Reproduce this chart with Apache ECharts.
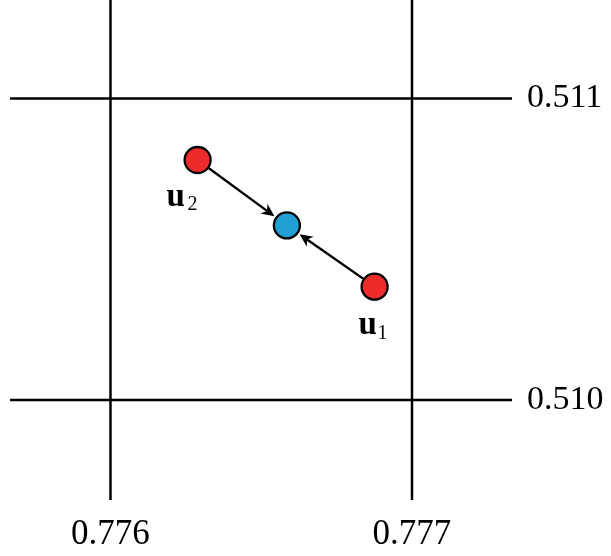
<!DOCTYPE html>
<html>
<head>
<meta charset="utf-8">
<script src="https://cdn.jsdelivr.net/npm/echarts@6/dist/echarts.min.js"></script>
<style>html,body{margin:0;padding:0;background:#fff}#c{width:611px;height:556px}</style>
</head>
<body>
<div id="c"></div>
<script>
// grid line positions / tick labels
const xTicks = [0.776, 0.777];
const yTicks = [0.510, 0.511];
const xTickLabels = ['0.776', '0.777'];
const yTickLabels = ['0.510', '0.511'];
// points
const pointNames = ['u2', 'mid', 'u1'];
const pointX = [0.776289, 0.776585, 0.776876];
const pointY = [0.510796, 0.510579, 0.510376];
const pointColors = ['#EE2B2B', '#1F9FD3', '#EE2B2B'];
// labels: point index, main letter, subscript
const labelPoint = [0, 2];
const labelMain = ['u', 'u'];
const labelSub = ['2', '1'];
// arrows (index from -> index to)
const arrowFrom = [0, 2];
const arrowTo = [1, 1];

const R = 14;
const FONT = 'Liberation Serif';
// pixel placement of label parts relative to the point: [mainDx, mainDy, subDx, subDy]
const labelLayout = [[-31, 37, -10, 45], [-16, 39, 3, 47]];

const chart = echarts.init(document.getElementById('c'));

chart.setOption({
  animation: false,
  grid: { left: 10, right: 99, top: 0, bottom: 56 },
  xAxis: { type: 'value', min: 0.7756667, max: 0.7773317, show: false },
  yAxis: { type: 'value', min: 0.5096683, max: 0.5113267, show: false },
  series: [
    {
      // vertical grid lines with labels below
      type: 'custom',
      z: 1,
      silent: true,
      data: xTicks.map((v, i) => [v, yTicks[0], i]),
      encode: { x: 0, y: 1 },
      renderItem: function (params, api) {
        const cs = params.coordSys;
        const px = api.coord([api.value(0), api.value(1)])[0];
        const bottom = cs.y + cs.height;
        return {
          type: 'group',
          children: [
            { type: 'line', shape: { x1: px, y1: cs.y, x2: px, y2: bottom },
              style: { stroke: '#000', lineWidth: 2.5 } },
            { type: 'text', x: px, y: bottom + 17,
              style: { text: xTickLabels[api.value(2)], fill: '#000', font: '35px "' + FONT + '"',
                       textAlign: 'center', textVerticalAlign: 'top' } }
          ]
        };
      }
    },
    {
      // horizontal grid lines with labels on the right
      type: 'custom',
      z: 1,
      silent: true,
      data: yTicks.map((v, i) => [xTicks[0], v, i]),
      encode: { x: 0, y: 1 },
      renderItem: function (params, api) {
        const cs = params.coordSys;
        const py = api.coord([api.value(0), api.value(1)])[1];
        const right = cs.x + cs.width;
        return {
          type: 'group',
          children: [
            { type: 'line', shape: { x1: cs.x, y1: py, x2: right, y2: py },
              style: { stroke: '#000', lineWidth: 2.5 } },
            { type: 'text', x: right + 15, y: py,
              style: { text: yTickLabels[api.value(2)], fill: '#000', font: '34px "' + FONT + '"',
                       textAlign: 'left', textVerticalAlign: 'middle' } }
          ]
        };
      }
    },
    {
      // arrows
      type: 'custom',
      z: 3,
      silent: true,
      data: arrowFrom.map((f, i) => [pointX[f], pointY[f], pointX[arrowTo[i]], pointY[arrowTo[i]]]),
      encode: { x: [0, 2], y: [1, 3] },
      renderItem: function (params, api) {
        const p1 = api.coord([api.value(0), api.value(1)]);
        const p2 = api.coord([api.value(2), api.value(3)]);
        const dx = p2[0] - p1[0], dy = p2[1] - p1[1];
        const len = Math.sqrt(dx * dx + dy * dy);
        const ux = dx / len, uy = dy / len;
        const nx = -uy, ny = ux;
        const s = [p1[0] + ux * R, p1[1] + uy * R];
        const tip = [p2[0] - ux * (R + 1.5), p2[1] - uy * (R + 1.5)];
        const hl = 13, hw = 6;
        const base = [tip[0] - ux * hl, tip[1] - uy * hl];
        const notch = [tip[0] - ux * hl * 0.7, tip[1] - uy * hl * 0.7];
        return {
          type: 'group',
          children: [
            { type: 'line', shape: { x1: s[0], y1: s[1], x2: notch[0], y2: notch[1] },
              style: { stroke: '#000', lineWidth: 2.4 } },
            { type: 'polygon', shape: { points: [
                tip,
                [base[0] + nx * hw, base[1] + ny * hw],
                notch,
                [base[0] - nx * hw, base[1] - ny * hw]
              ] }, style: { fill: '#000' } }
          ]
        };
      }
    },
    {
      // point labels u with subscripts
      type: 'custom',
      z: 4,
      silent: true,
      data: labelPoint.map((p, i) => [pointX[p], pointY[p], i]),
      encode: { x: 0, y: 1 },
      renderItem: function (params, api) {
        const i = api.value(2);
        const p = api.coord([api.value(0), api.value(1)]);
        const L = labelLayout[i];
        return {
          type: 'group',
          children: [
            { type: 'text', x: p[0] + L[0], y: p[1] + L[1],
              style: { text: labelMain[i], fill: '#000', font: 'bold 33px "' + FONT + '"',
                       textAlign: 'left', textVerticalAlign: 'middle' } },
            { type: 'text', x: p[0] + L[2], y: p[1] + L[3],
              style: { text: labelSub[i], fill: '#000', font: '20px "' + FONT + '"',
                       textAlign: 'left', textVerticalAlign: 'middle' } }
          ]
        };
      }
    },
    {
      type: 'scatter',
      z: 5,
      symbolSize: 26,
      data: pointX.map((x, i) => ({
        name: pointNames[i],
        value: [x, pointY[i]],
        itemStyle: { color: pointColors[i], borderColor: '#000', borderWidth: 2.3, opacity: 1 }
      }))
    }
  ]
});
</script>
</body>
</html>
